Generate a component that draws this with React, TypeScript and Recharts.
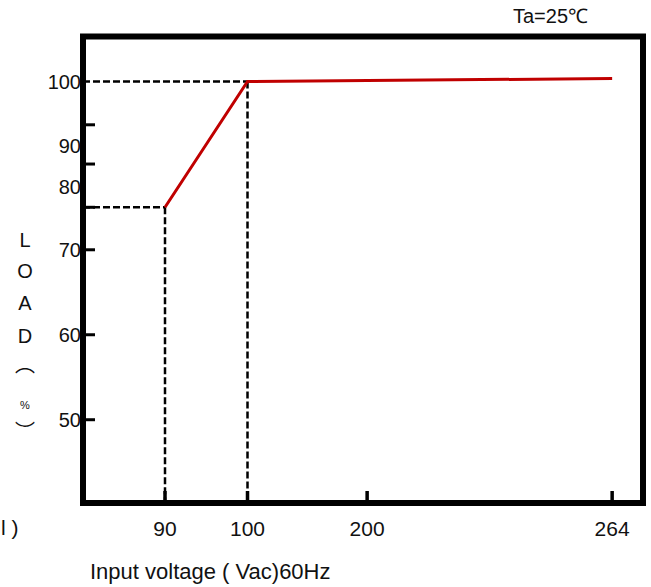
import { ComposedChart, Line, XAxis, YAxis, ReferenceLine, ReferenceArea } from 'recharts';

// derating curve: input voltage (Vac) vs load (%)
const voltage = [90, 100, 264];
const load = [75, 100, 100.6];

const xTickValues = [90, 100, 200, 264];

// the printed axes are not to scale, so each knot gets its own axis position
const xKnotVolt = [90, 100, 200, 264];
const xKnotPos = [90, 100, 114.5, 144.2];
const yKnotLoad = [50, 75, 100];
const yKnotPos = [50, 75, 89.8];

const yTickMarks = [50, 60, 70, 75, 83.6, 91.4];
const yLabelAt = [50, 60, 70, 79.1, 87.2, 100];
const yLabelText = ['50', '60', '70', '80', '90', '100'];

const xDomain = [80.06, 147.94];
const yDomain = [40.2, 95.1];

const FONT = '"Liberation Sans", Arial, sans-serif';

function piecewise(v: number, from: number[], to: number[]) {
  let i = 0;
  while (i < from.length - 2 && v > from[i + 1]) i++;
  const t = (v - from[i]) / (from[i + 1] - from[i]);
  return to[i] + t * (to[i + 1] - to[i]);
}
const xPos = (v: number) => piecewise(v, xKnotVolt, xKnotPos);
const yPos = (v: number) => piecewise(v, yKnotLoad, yKnotPos);

const data = voltage.map((v, i) => ({ x: xPos(v), y: yPos(load[i]) }));

const yMarkPos = yTickMarks.map(yPos);
const yLabelPos = yLabelAt.map(yPos);
const yTicks = Array.from(new Set([...yMarkPos, ...yLabelPos])).sort((a, b) => a - b);

const near = (a: number, b: number) => Math.abs(a - b) < 1e-6;

function YTick(props: any) {
  const { x, y, payload } = props;
  const v = payload.value;
  const hasMark = yMarkPos.some((m) => near(m, v));
  const li = yLabelPos.findIndex((m) => near(m, v));
  return (
    <g>
      {hasMark && <line x1={x} x2={x + 12} y1={y} y2={y} stroke="#000" strokeWidth={3} />}
      {li >= 0 && (
        <text x={x - 2} y={y + 7} textAnchor="end" fontFamily={FONT} fontSize={20} fill="#111">
          {yLabelText[li]}
        </text>
      )}
    </g>
  );
}

function XTick(props: any) {
  const { x, y, payload } = props;
  const idx = xKnotPos.findIndex((p) => near(p, payload.value));
  return (
    <g>
      <line x1={x} x2={x} y1={y} y2={y - 12} stroke="#000" strokeWidth={3.5} />
      <text x={x} y={y + 33} textAnchor="middle" fontFamily={FONT} fontSize={21} fill="#111">
        {xKnotVolt[idx]}
      </text>
    </g>
  );
}

const dash = { stroke: '#000', strokeWidth: 2.5, strokeDasharray: '7 3', ifOverflow: 'visible' as const };

export default function App() {
  const x90 = xPos(90);
  const x100 = xPos(100);
  const y75 = yPos(75);
  const y100 = yPos(100);
  return (
    <div style={{ position: 'absolute', left: 0, top: 0, width: 651, height: 587, background: '#fff' }}>
      <ComposedChart width={651} height={587} data={data} margin={{ top: 36.5, right: 8, bottom: 44, left: 0 }}>
        <XAxis
          type="number"
          dataKey="x"
          domain={xDomain}
          ticks={xTickValues.map(xPos)}
          tick={<XTick />}
          tickSize={0}
          tickMargin={0}
          axisLine={false}
          tickLine={false}
          height={40}
          allowDataOverflow
        />
        <YAxis
          type="number"
          dataKey="y"
          domain={yDomain}
          ticks={yTicks}
          tick={<YTick />}
          tickSize={0}
          tickMargin={0}
          axisLine={false}
          tickLine={false}
          width={83}
          allowDataOverflow
          interval={0}
        />
        <ReferenceLine segment={[{ x: xDomain[0], y: y100 }, { x: x100, y: y100 }]} {...dash} />
        <ReferenceLine segment={[{ x: x100, y: y100 }, { x: x100, y: yDomain[0] }]} {...dash} />
        <ReferenceLine segment={[{ x: xDomain[0], y: y75 }, { x: x90, y: y75 }]} {...dash} />
        <ReferenceLine segment={[{ x: x90, y: y75 }, { x: x90, y: yDomain[0] }]} {...dash} />
        <Line
          type="linear"
          dataKey="y"
          stroke="#c00000"
          strokeWidth={3}
          dot={false}
          isAnimationActive={false}
        />
        <ReferenceArea
          x1={xDomain[0]}
          x2={xDomain[1]}
          y1={yDomain[0]}
          y2={yDomain[1]}
          fill="none"
          stroke="#000"
          strokeWidth={6}
          ifOverflow="visible"
        />
      </ComposedChart>
      <svg width={651} height={587} style={{ position: 'absolute', left: 0, top: 0, pointerEvents: 'none' }}>
        <g fontFamily={FONT} fontSize={22} fill="#111">
          <text x={513} y={23} fontSize={20}>Ta=25℃</text>
          <text x={90} y={579}>Input voltage ( Vac)60Hz</text>
          <text x={1} y={535} fontSize={21}>l )</text>
          <g textAnchor="middle" fontSize={20}>
            <text x={25} y={247}>L</text>
            <text x={25} y={278}>O</text>
            <text x={25} y={310}>A</text>
            <text x={25} y={343}>D</text>
            <text x={25} y={372} fontFamily='"Noto Sans CJK SC"'>︵</text>
            <text x={25} y={409} fontSize={11}>%</text>
            <text x={25} y={439} fontFamily='"Noto Sans CJK SC"'>︶</text>
          </g>
        </g>
      </svg>
    </div>
  );
}
